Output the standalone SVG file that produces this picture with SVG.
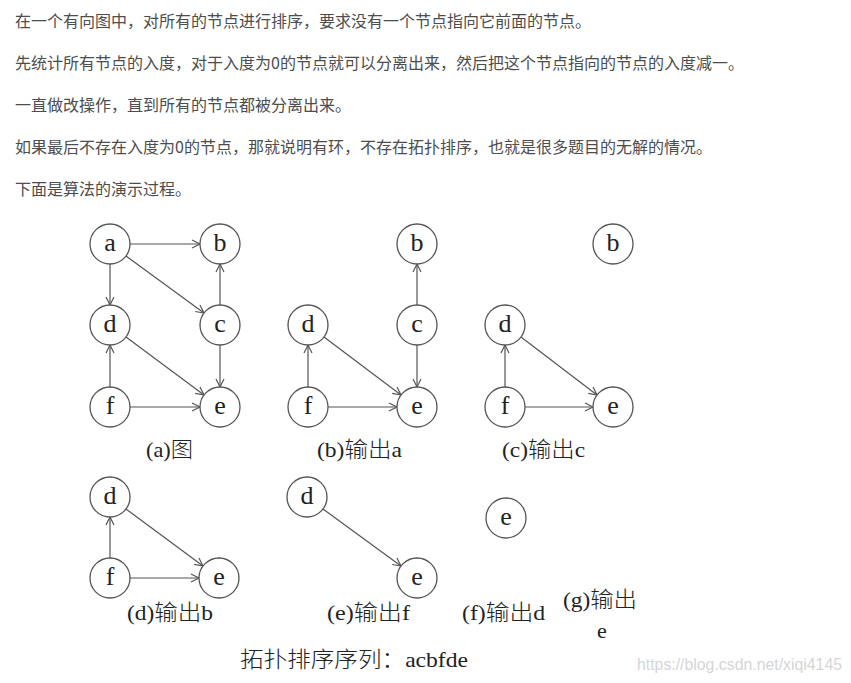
<svg xmlns="http://www.w3.org/2000/svg" width="851" height="683" viewBox="0 0 851 683">
<style>
.para{font-family:"Noto Sans CJK SC","Noto Sans",sans-serif;font-size:16px;fill:#4d4d4d}
.node circle{fill:#fff;stroke:#555;stroke-width:1.3}
.node text{font-family:"Liberation Serif","Noto Sans CJK SC",serif;font-size:26px;fill:#222;text-anchor:middle}
.edge{stroke:#555;stroke-width:1.2;fill:none;marker-end:url(#arr)}
.cap{font-family:"Liberation Serif","Noto Sans CJK SC",serif;font-size:22px;fill:#222;font-weight:300}
.wm{font-family:"Liberation Sans",Arial,sans-serif;font-size:16px;fill:#d6d6d6}
</style>
<defs>
<marker id="arr" markerUnits="userSpaceOnUse" markerWidth="12" markerHeight="12" refX="9" refY="5" orient="auto">
<path d="M1,1 L9,5 L1,9" fill="none" stroke="#555" stroke-width="1.2"/>
</marker>
</defs>
<rect width="851" height="683" fill="#fff"/>
<g id="intro">
<text class="para" x="15" y="27">在一个有向图中，对所有的节点进行排序，要求没有一个节点指向它前面的节点。</text>
<text class="para" x="15" y="69">先统计所有节点的入度，对于入度为0的节点就可以分离出来，然后把这个节点指向的节点的入度减一。</text>
<text class="para" x="15" y="111">一直做改操作，直到所有的节点都被分离出来。</text>
<text class="para" x="15" y="153">如果最后不存在入度为0的节点，那就说明有环，不存在拓扑排序，也就是很多题目的无解的情况。</text>
<text class="para" x="15" y="195">下面是算法的演示过程。</text>
</g>
<g id="connectors">
<!-- (a) -->
<line class="edge" x1="130" y1="244" x2="200" y2="244"/>
<line class="edge" x1="110" y1="264" x2="110" y2="305"/>
<line class="edge" x1="126" y1="256" x2="204" y2="313"/>
<line class="edge" x1="220" y1="305" x2="220" y2="264"/>
<line class="edge" x1="126" y1="337" x2="204" y2="395"/>
<line class="edge" x1="220" y1="345" x2="220" y2="387"/>
<line class="edge" x1="110" y1="387" x2="110" y2="345"/>
<line class="edge" x1="130" y1="407" x2="200" y2="407"/>
<!-- (b) -->
<line class="edge" x1="417" y1="305" x2="417" y2="264"/>
<line class="edge" x1="417" y1="345" x2="417" y2="387"/>
<line class="edge" x1="308" y1="387" x2="308" y2="345"/>
<line class="edge" x1="328" y1="407" x2="397" y2="407"/>
<line class="edge" x1="324" y1="337" x2="401" y2="395"/>
<!-- (c) -->
<line class="edge" x1="505" y1="387" x2="505" y2="345"/>
<line class="edge" x1="525" y1="407" x2="593" y2="407"/>
<line class="edge" x1="521" y1="337" x2="597" y2="395"/>
<!-- (d) -->
<line class="edge" x1="110" y1="558" x2="110" y2="517"/>
<line class="edge" x1="130" y1="578" x2="199" y2="578"/>
<line class="edge" x1="126" y1="509" x2="203" y2="566"/>
<!-- (e) -->
<line class="edge" x1="323" y1="509" x2="401" y2="566"/>
</g>
<g id="a-a" class="node"><circle cx="110" cy="244" r="20"/><text x="110" y="251">a</text></g>
<g id="a-b" class="node"><circle cx="220" cy="244" r="20"/><text x="220" y="251">b</text></g>
<g id="a-d" class="node"><circle cx="110" cy="325" r="20"/><text x="110" y="332">d</text></g>
<g id="a-c" class="node"><circle cx="220" cy="325" r="20"/><text x="220" y="332">c</text></g>
<g id="a-f" class="node"><circle cx="110" cy="407" r="20"/><text x="110" y="414">f</text></g>
<g id="a-e" class="node"><circle cx="220" cy="407" r="20"/><text x="220" y="414">e</text></g>

<g id="b-b" class="node"><circle cx="417" cy="244" r="20"/><text x="417" y="251">b</text></g>
<g id="b-d" class="node"><circle cx="308" cy="325" r="20"/><text x="308" y="332">d</text></g>
<g id="b-c" class="node"><circle cx="417" cy="325" r="20"/><text x="417" y="332">c</text></g>
<g id="b-f" class="node"><circle cx="308" cy="407" r="20"/><text x="308" y="414">f</text></g>
<g id="b-e" class="node"><circle cx="417" cy="407" r="20"/><text x="417" y="414">e</text></g>

<g id="c-b" class="node"><circle cx="613" cy="244" r="20"/><text x="613" y="251">b</text></g>
<g id="c-d" class="node"><circle cx="505" cy="325" r="20"/><text x="505" y="332">d</text></g>
<g id="c-f" class="node"><circle cx="505" cy="407" r="20"/><text x="505" y="414">f</text></g>
<g id="c-e" class="node"><circle cx="613" cy="407" r="20"/><text x="613" y="414">e</text></g>

<g id="d-d" class="node"><circle cx="110" cy="497" r="20"/><text x="110" y="504">d</text></g>
<g id="d-f" class="node"><circle cx="110" cy="578" r="20"/><text x="110" y="585">f</text></g>
<g id="d-e" class="node"><circle cx="219" cy="578" r="20"/><text x="219" y="585">e</text></g>

<g id="e-d" class="node"><circle cx="307" cy="497" r="20"/><text x="307" y="504">d</text></g>
<g id="e-e" class="node"><circle cx="417" cy="578" r="20"/><text x="417" y="585">e</text></g>

<g id="f-e" class="node"><circle cx="506" cy="518" r="20"/><text x="506" y="525">e</text></g>

<g id="captions">
<text class="cap" x="146" y="457" textLength="47" lengthAdjust="spacingAndGlyphs">(a)图</text>
<text class="cap" x="317" y="457" textLength="85" lengthAdjust="spacingAndGlyphs">(b)输出a</text>
<text class="cap" x="502" y="457" textLength="83" lengthAdjust="spacingAndGlyphs">(c)输出c</text>
<text class="cap" x="127" y="620" textLength="86" lengthAdjust="spacingAndGlyphs">(d)输出b</text>
<text class="cap" x="327" y="620" textLength="83" lengthAdjust="spacingAndGlyphs">(e)输出f</text>
<text class="cap" x="462" y="620" textLength="83" lengthAdjust="spacingAndGlyphs">(f)输出d</text>
<text class="cap" x="563" y="607" textLength="74" lengthAdjust="spacingAndGlyphs">(g)输出</text>
<text class="cap" x="602" y="638" text-anchor="middle">e</text>
<text class="cap" x="240" y="667" textLength="228" lengthAdjust="spacingAndGlyphs">拓扑排序序列：acbfde</text>
</g>
<text class="wm" x="637" y="670" textLength="205" lengthAdjust="spacingAndGlyphs">https://blog.csdn.net/xiqi4145</text>
</svg>
